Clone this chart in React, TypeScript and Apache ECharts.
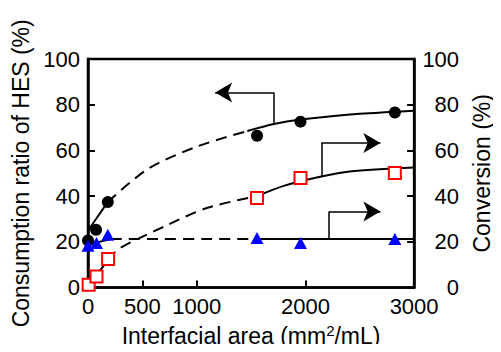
import React, { useEffect, useRef } from "react";
import * as echarts from "echarts";

// Measured points
const hesRatio: [number, number][] = [
  [0, 20.6], [74, 25.3], [182, 37.4], [1555, 66.4], [1955, 72.6], [2823, 76.6],
];
const conversionRed: [number, number][] = [
  [6, 1.3], [78, 4.9], [185, 12.5], [1555, 39.2], [1955, 47.9], [2823, 50.1],
];
const conversionBlue: [number, number][] = [
  [0, 18.3], [78, 19.5], [182, 23.1], [1555, 21.7], [1955, 19.5], [2823, 21.3],
];

// Fitted curves (solid / dashed / solid)
const blackCurveA: [number, number][] = [[0, 25], [74, 30], [182, 37.5]];
const blackCurveB: [number, number][] = [[182, 37.5], [555, 52], [1003, 61.7], [1466, 68.5]];
const blackCurveC: [number, number][] = [[1466, 68.5], [1710, 71.6], [1955, 73.5], [2500, 76], [3000, 77.4]];

const redCurveA: [number, number][] = [[0, 1], [78, 5.5], [185, 12]];
const redCurveB: [number, number][] = [[185, 12], [286, 17], [705, 26.8], [1092, 34.8], [1555, 40]];
const redCurveC: [number, number][] = [[1555, 40], [1808, 44.6], [2146, 48.6], [2406, 50.8], [3000, 52.5]];

const blueCurveA: [number, number][] = [[0, 18.8], [212, 21.3]];
const blueCurveB: [number, number][] = [[212, 21.3], [1555, 21.3]];
const blueCurveC: [number, number][] = [[1555, 21.3], [3000, 21.3]];

// Annotation arrows: [start on curve, corner, arrow tip]
const arrowHes: [number, number][] = [[1710, 71.6], [1710, 85.3], [1170, 85.3]];
const arrowRed: [number, number][] = [[2146, 48.6], [2146, 63.2], [2690, 63.2]];
const arrowBlue: [number, number][] = [[2217, 21.3], [2217, 33.3], [2690, 33.3]];

const xLabelValues = [0, 500, 1000, 2000, 3000];
const xTickValues = [500, 1000, 2000];

const FONT = "'Liberation Sans', Arial, Helvetica, sans-serif";

function curve(data: [number, number][], dashed: boolean, yAxisIndex: number) {
  return {
    type: "line",
    data,
    yAxisIndex,
    smooth: 0.3,
    symbol: "none",
    silent: true,
    z: 2,
    lineStyle: { color: "#000", width: 2, type: dashed ? [11, 7] : "solid" },
  };
}

function arrow(pts: [number, number][], yAxisIndex: number) {
  return {
    type: "scatter",
    data: [],
    yAxisIndex,
    silent: true,
    markLine: {
      silent: true,
      animation: false,
      label: { show: false },
      lineStyle: { color: "#000", width: 1.5, type: "solid" },
      symbolSize: [15, 17],
      data: [
        [
          { coord: pts[0], symbol: "none" },
          { coord: pts[1], symbol: "none" },
        ],
        [
          { coord: pts[1], symbol: "none" },
          { coord: pts[2], symbol: "arrow" },
        ],
      ],
    },
  };
}

export default function App() {
  const ref = useRef<HTMLDivElement>(null);
  useEffect(() => {
    if (!ref.current) return;
    const chart = echarts.init(ref.current, undefined, { renderer: "svg" });
    const axisLabel = {
      color: "#000",
      fontSize: 22,
      fontFamily: FONT,
      formatter: (v: number) => String(v),
    };
    chart.setOption({
      animation: false,
      backgroundColor: "#fff",
      textStyle: { fontFamily: FONT },
      grid: {
        left: 88,
        right: 78,
        top: 59,
        bottom: 64,
        show: true,
        borderColor: "#000",
        borderWidth: 2.5,
        backgroundColor: "transparent",
      },
      xAxis: {
        type: "value",
        min: 0,
        max: 3000,
        name: "{a|Interfacial area (mm}{s|2}{a|/mL)}",
        nameLocation: "middle",
        nameGap: 30,
        nameTextStyle: {
          rich: {
            a: { fontSize: 23, color: "#000", fontFamily: FONT, lineHeight: 26 },
            s: { fontSize: 15, color: "#000", fontFamily: FONT, lineHeight: 26, verticalAlign: "top" },
          },
        },
        axisLine: { lineStyle: { color: "#000", width: 2.5 } },
        axisTick: { inside: true, length: 7, customValues: xTickValues, lineStyle: { color: "#000", width: 2 } },
        axisLabel: { ...axisLabel, margin: 8, customValues: xLabelValues },
        splitLine: { show: false },
      },
      yAxis: [
        {
          type: "value",
          min: 0,
          max: 100,
          interval: 20,
          position: "left",
          name: "Consumption ratio of HES (%)",
          nameLocation: "middle",
          nameGap: 48,
          nameTextStyle: { fontSize: 23, color: "#000", fontFamily: FONT },
          axisLine: { show: true, lineStyle: { color: "#000", width: 2.5 } },
          axisTick: { show: true, inside: true, length: 7, lineStyle: { color: "#000", width: 2 } },
          axisLabel: { ...axisLabel, margin: 8 },
          splitLine: { show: false },
        },
        {
          type: "value",
          min: 0,
          max: 100,
          interval: 20,
          position: "right",
          name: "Conversion (%)",
          nameLocation: "middle",
          nameGap: 51,
          nameTextStyle: { fontSize: 23, color: "#000", fontFamily: FONT },
          axisLine: { show: true, lineStyle: { color: "#000", width: 2.5 } },
          axisTick: { show: true, inside: true, length: 7, lineStyle: { color: "#000", width: 2 } },
          axisLabel: { ...axisLabel, margin: 45, align: "right" },
          splitLine: { show: false },
        },
      ],
      series: [
        curve(blackCurveA, false, 0),
        curve(blackCurveB, true, 0),
        curve(blackCurveC, false, 0),
        curve(redCurveA, false, 1),
        curve(redCurveB, true, 1),
        curve(redCurveC, false, 1),
        curve(blueCurveA, false, 1),
        curve(blueCurveB, true, 1),
        curve(blueCurveC, false, 1),
        arrow(arrowHes, 0),
        arrow(arrowRed, 1),
        arrow(arrowBlue, 1),
        {
          type: "scatter",
          name: "HES consumption",
          data: hesRatio,
          yAxisIndex: 0,
          symbol: "circle",
          symbolSize: 12,
          z: 5,
          itemStyle: { color: "#000", opacity: 1 },
        },
        {
          type: "scatter",
          name: "Conversion (red)",
          data: conversionRed,
          yAxisIndex: 1,
          symbol: "rect",
          symbolSize: 12,
          z: 5,
          itemStyle: { color: "#fff", borderColor: "#ff0000", borderWidth: 2, opacity: 1 },
        },
        {
          type: "scatter",
          name: "Conversion (blue)",
          data: conversionBlue,
          yAxisIndex: 1,
          symbol: "triangle",
          symbolSize: [13, 12],
          z: 5,
          itemStyle: { color: "#0000ff", opacity: 1 },
        },
      ],
    });
    return () => chart.dispose();
  }, []);
  return <div ref={ref} style={{ width: 501, height: 352, margin: -8 }} />;
}
